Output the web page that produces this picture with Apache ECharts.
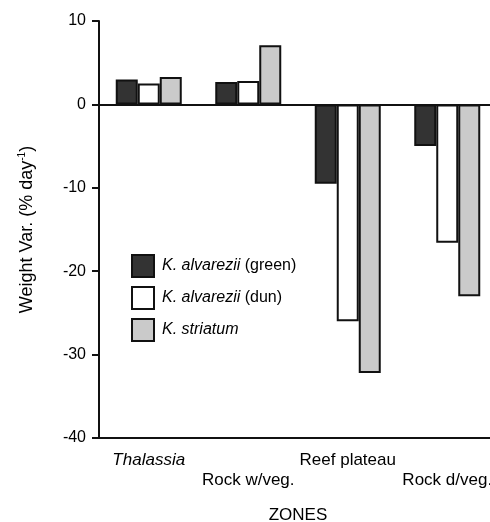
<!DOCTYPE html>
<html>
<head>
<meta charset="utf-8">
<script src="https://cdn.jsdelivr.net/npm/echarts@6/dist/echarts.min.js"></script>
<style>
  html, body { margin: 0; padding: 0; background: #fff; }
  #chart { width: 490px; height: 522px; }
</style>
</head>
<body>
<div id="chart"></div>
<script>
    // zones on the x axis
    var zones = ['Thalassia', 'Rock w/veg.', 'Reef plateau', 'Rock d/veg.'];
    // weight variation, % per day
    var greenVals = [3.0, 2.7, -9.5, -5.0];
    var dunVals = [2.5, 2.8, -26.0, -16.6];
    var striatumVals = [3.3, 7.1, -32.2, -23.0];
    var yTicks = [-40, -30, -20, -10, 0, 10];

    var font = 'Liberation Sans, Arial, sans-serif';

    var myChart = echarts.init(document.getElementById('chart'));

    var barBorder = {borderColor: '#111', borderWidth: 2};

    var option = {
        animation: false,
        textStyle: {fontFamily: font, color: '#000'},
        legend: {
            orient: 'vertical',
            left: 131,
            top: 254,
            padding: 0,
            itemWidth: 22,
            itemHeight: 22,
            itemGap: 8,
            icon: 'rect',
            data: ['green', 'dun', 'striatum'],
            formatter: function (name) {
                if (name === 'green') return '{i|K. alvarezii} (green)';
                if (name === 'dun') return '{i|K. alvarezii} (dun)';
                return '{i|K. striatum}';
            },
            textStyle: {
                fontSize: 16,
                lineHeight: 22,
                color: '#000',
                fontFamily: font,
                padding: [0, 0, 0, 3],
                rich: {
                    i: {fontStyle: 'italic', fontSize: 16, lineHeight: 22, fontFamily: font, color: '#000'}
                }
            }
        },
        grid: {
            left: 99,
            top: 21,
            width: 398,
            bottom: 84,
            outerBoundsMode: 'none',
            containLabel: false
        },
        xAxis: [
            {
                type: 'category',
                data: zones,
                position: 'bottom',
                axisLine: {onZero: false, lineStyle: {color: '#111', width: 2}},
                axisTick: {alignWithLabel: true, length: 5, lineStyle: {color: '#111', width: 2}},
                axisLabel: {
                    interval: 0,
                    margin: 12,
                    fontSize: 17,
                    color: '#000',
                    lineHeight: 20,
                    hideOverlap: false,
                    formatter: function (v, i) {
                        if (i === 0) return '{i|' + v + '}';
                        if (i % 2 === 1) return '\n' + v;
                        return v;
                    },
                    rich: {
                        i: {fontStyle: 'italic', fontSize: 17, color: '#000', lineHeight: 20}
                    }
                },
                name: 'ZONES',
                nameLocation: 'middle',
                nameGap: 69,
                nameTextStyle: {fontSize: 17, color: '#000'}
            },
            {
                // top frame line
                type: 'category',
                data: zones,
                position: 'top',
                axisLine: {lineStyle: {color: '#111', width: 2}},
                axisTick: {show: false},
                axisLabel: {show: false}
            }
        ],
        yAxis: {
            type: 'value',
            min: yTicks[0],
            max: yTicks[yTicks.length - 1],
            interval: 10,
            axisLine: {show: true, lineStyle: {color: '#111', width: 2}},
            axisTick: {show: true, length: 7, lineStyle: {color: '#111', width: 2}},
            splitLine: {show: false},
            axisLabel: {fontSize: 16, color: '#000', margin: 13},
            name: '{n|Weight Var. (% day}{s|-1}{n|)}',
            nameLocation: 'middle',
            nameGap: 62,
            nameTextStyle: {
                rich: {
                    n: {fontSize: 18, color: '#000', fontFamily: font},
                    s: {fontSize: 10, color: '#000', fontFamily: font, padding: [0, 0, 10, 0]}
                }
            }
        },
        series: [
            {
                name: 'green',
                type: 'bar',
                data: greenVals,
                barWidth: 22,
                barGap: '0%',
                itemStyle: Object.assign({color: '#333333'}, barBorder),
                markLine: {
                    silent: true,
                    symbol: 'none',
                    label: {show: false},
                    lineStyle: {color: '#111', width: 2, type: 'solid'},
                    data: [{yAxis: 0}]
                }
            },
            {
                name: 'dun',
                type: 'bar',
                data: dunVals,
                barWidth: 22,
                barGap: '0%',
                itemStyle: Object.assign({color: '#ffffff'}, barBorder)
            },
            {
                name: 'striatum',
                type: 'bar',
                data: striatumVals,
                barWidth: 22,
                barGap: '0%',
                itemStyle: Object.assign({color: '#cacaca'}, barBorder)
            }
        ]
    };

    myChart.setOption(option);
</script>
</body>
</html>
